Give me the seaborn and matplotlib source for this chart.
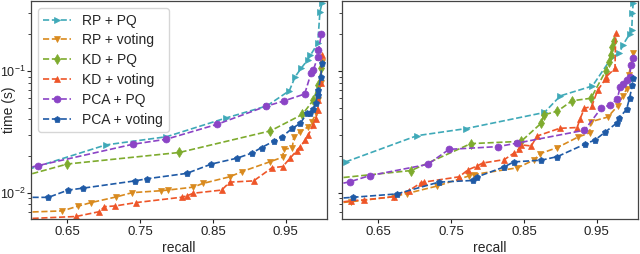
import matplotlib
matplotlib.use('Agg')
import matplotlib.pyplot as plt
import seaborn as sns

# ---- data: left panel (A) ----
A_RP_PQ_X = [0.585, 0.703, 0.786, 0.868, 0.924, 0.955, 0.963, 0.971, 0.980, 0.984, 0.994, 0.997, 1.0]
A_RP_PQ_Y = [0.0148, 0.0247, 0.0288, 0.0411, 0.0516, 0.0689, 0.0898, 0.105, 0.123, 0.135, 0.169, 0.307, 0.364]

A_RP_VOTE_X = [0.59, 0.643, 0.664, 0.683, 0.717, 0.739, 0.778, 0.788, 0.823, 0.836, 0.873, 0.890,
               0.929, 0.946, 0.947, 0.959, 0.961, 0.970, 0.981, 0.986, 0.992, 0.995, 0.998, 1.0]
A_RP_VOTE_Y = [0.0069, 0.00708, 0.00773, 0.0083, 0.00922, 0.0100, 0.01037, 0.0105, 0.0111, 0.0119, 0.0135, 0.0149,
               0.0180, 0.0196, 0.0227, 0.0233, 0.0287, 0.0317, 0.0348, 0.0383, 0.0452, 0.0578, 0.0796, 0.118]

A_KD_PQ_X = [0.59, 0.65, 0.804, 0.929, 0.973, 0.988, 0.995, 0.999]
A_KD_PQ_Y = [0.0137, 0.0172, 0.0214, 0.0322, 0.0440, 0.0578, 0.0767, 0.106]

A_KD_VOTE_X = [0.59, 0.662, 0.694, 0.701, 0.716, 0.744, 0.807, 0.814, 0.823, 0.862, 0.873, 0.906, 0.931,
               0.946, 0.956, 0.965, 0.970, 0.977, 0.981, 0.988, 0.991, 0.994, 0.995, 0.998, 1.0]
A_KD_VOTE_Y = [0.0061, 0.00637, 0.00698, 0.00767, 0.00778, 0.00828, 0.00917, 0.0094, 0.00989, 0.0105, 0.0122, 0.0125, 0.016,
               0.0164, 0.0192, 0.0221, 0.0239, 0.0271, 0.0298, 0.036, 0.0401, 0.0478, 0.0578, 0.0792, 0.135]

A_PCA_PQ_X = [0.59, 0.610, 0.740, 0.786, 0.856, 0.923, 0.947, 0.976, 0.985, 0.988, 0.994, 0.995, 0.999]
A_PCA_PQ_Y = [0.0157, 0.0167, 0.0250, 0.0275, 0.0365, 0.0513, 0.0566, 0.0647, 0.0968, 0.102, 0.131, 0.149, 0.200]

A_PCA_VOTE_X = [0.59, 0.624, 0.651, 0.672, 0.743, 0.759, 0.814, 0.848, 0.883, 0.903, 0.917, 0.934,
                0.945, 0.959, 0.970, 0.979, 0.983, 0.988, 0.991, 0.994, 0.995, 0.998, 1.0]
A_PCA_VOTE_Y = [0.00915, 0.00915, 0.0105, 0.0109, 0.0125, 0.0130, 0.0144, 0.0172, 0.0192, 0.0211, 0.0235, 0.0266,
                0.0288, 0.0338, 0.0371, 0.0449, 0.0454, 0.0484, 0.0543, 0.0635, 0.0698, 0.0893, 0.116]

# ---- data: right panel (B) ----
B_RP_PQ_X = [0.605, 0.703, 0.770, 0.878, 0.900, 0.944, 0.971, 0.981, 0.986, 0.995, 0.998, 0.999, 1.0]
B_RP_PQ_Y = [0.0179, 0.0294, 0.0336, 0.0456, 0.0625, 0.0753, 0.130, 0.140, 0.164, 0.201, 0.217, 0.300, 0.362]

B_RP_VOTE_X = [0.59, 0.613, 0.671, 0.689, 0.731, 0.774, 0.781, 0.841, 0.864, 0.872, 0.896, 0.924, 0.940,
               0.942, 0.965, 0.979, 0.986, 0.991, 0.994, 1.0]
B_RP_VOTE_Y = [0.0082, 0.00843, 0.00927, 0.00984, 0.01135, 0.0137, 0.0141, 0.0160, 0.0186, 0.0209, 0.0235, 0.0286, 0.0310,
               0.0383, 0.0418, 0.0518, 0.0624, 0.0711, 0.0927, 0.140]

B_KD_PQ_X = [0.59, 0.695, 0.777, 0.846, 0.874, 0.877, 0.896, 0.916, 0.942, 0.962, 0.967, 0.969, 0.971, 0.973]
B_KD_PQ_Y = [0.0131, 0.0152, 0.0253, 0.0264, 0.0374, 0.0435, 0.0468, 0.0569, 0.0597, 0.0995, 0.119, 0.135, 0.157, 0.177]

B_KD_VOTE_X = [0.59, 0.613, 0.630, 0.671, 0.692, 0.708, 0.712, 0.761, 0.773, 0.786, 0.793, 0.823, 0.836, 0.843,
               0.846, 0.860, 0.868, 0.899, 0.923, 0.927, 0.933, 0.943, 0.951, 0.962, 0.963, 0.975, 0.976]
B_KD_VOTE_Y = [0.00822, 0.00859, 0.00871, 0.00927, 0.0104, 0.0120, 0.0122, 0.0135, 0.0154, 0.0166, 0.0175, 0.0187, 0.0211, 0.0229,
               0.0247, 0.0242, 0.0292, 0.0338, 0.0343, 0.0403, 0.0494, 0.0511, 0.0692, 0.0860, 0.0898, 0.105, 0.204]

B_PCA_PQ_X = [0.59, 0.611, 0.638, 0.718, 0.747, 0.814, 0.840, 0.933, 0.956, 0.968, 0.978, 0.982, 0.986,
              0.991, 0.995, 0.997, 1.0]
B_PCA_PQ_Y = [0.01156, 0.0123, 0.0138, 0.0171, 0.0227, 0.0239, 0.0255, 0.0326, 0.0494, 0.0526, 0.0585, 0.0734, 0.0782,
              0.0843, 0.0893, 0.111, 0.127]

B_PCA_VOTE_X = [0.59, 0.615, 0.675, 0.733, 0.780, 0.786, 0.823, 0.836, 0.874, 0.896, 0.934, 0.948, 0.961,
                0.978, 0.981, 0.991, 0.995, 0.999, 1.0]
B_PCA_VOTE_Y = [0.00895, 0.00916, 0.00976, 0.0122, 0.0126, 0.0135, 0.0163, 0.0179, 0.0185, 0.0198, 0.0251, 0.0272, 0.0313,
                0.0376, 0.0412, 0.0485, 0.060, 0.0767, 0.0871]

LABELS = ['RP + PQ', 'RP + voting', 'KD + PQ', 'KD + voting', 'PCA + PQ', 'PCA + voting']
COLORS = ['#3fa9b8', '#d98a1e', '#7eab2e', '#ee5528', '#8b44c6', '#1f5aa6']
MARKERS = ['>', 'v', 'd', '^', 'o', 'p']
MSIZES = [5, 5, 5.5, 5, 5, 4.6]
XTICKS = [0.65, 0.75, 0.85, 0.95]

PANEL_A = [(A_RP_PQ_X, A_RP_PQ_Y), (A_RP_VOTE_X, A_RP_VOTE_Y), (A_KD_PQ_X, A_KD_PQ_Y),
           (A_KD_VOTE_X, A_KD_VOTE_Y), (A_PCA_PQ_X, A_PCA_PQ_Y), (A_PCA_VOTE_X, A_PCA_VOTE_Y)]
PANEL_B = [(B_RP_PQ_X, B_RP_PQ_Y), (B_RP_VOTE_X, B_RP_VOTE_Y), (B_KD_PQ_X, B_KD_PQ_Y),
           (B_KD_VOTE_X, B_KD_VOTE_Y), (B_PCA_PQ_X, B_PCA_PQ_Y), (B_PCA_VOTE_X, B_PCA_VOTE_Y)]

sns.set_style('ticks')
plt.rcParams['font.family'] = ['Liberation Sans', 'DejaVu Sans']
plt.rcParams['mathtext.fontset'] = 'custom'
plt.rcParams['mathtext.rm'] = 'Liberation Sans'
plt.rcParams['mathtext.it'] = 'Liberation Sans:italic'
plt.rcParams['axes.edgecolor'] = '#444444'

fig, axes = plt.subplots(1, 2, figsize=(6.4, 2.54), dpi=100, sharey=True)
fig.subplots_adjust(left=0.0484, right=0.9973, bottom=0.138, top=0.996, wspace=0.05)

for ax, panel in zip(axes, [PANEL_A, PANEL_B]):
    for (xs, ys), lab, col, mk, ms in zip(panel, LABELS, COLORS, MARKERS, MSIZES):
        sns.lineplot(x=xs, y=ys, ax=ax, sort=False, estimator=None, label=lab,
                     color=col, marker=mk, markersize=ms, markeredgecolor=col,
                     markeredgewidth=0.5, linestyle='--', linewidth=1.2)
    ax.set_yscale('log')
    ax.set_xlim(0.6, 1.007)
    ax.set_ylim(0.00608, 0.376)
    ax.set_xticks(XTICKS)
    ax.set_xticklabels([f'{t:.2f}' for t in XTICKS])
    ax.tick_params(axis='x', labelsize=9.5, colors='#222222', width=0.8, length=3, pad=2)
    ax.tick_params(axis='y', labelsize=9, colors='#222222', width=0.8, length=3, pad=1)
    ax.tick_params(which='minor', width=0.6, length=2)
    ax.set_xlabel('recall', fontsize=10, labelpad=2)
    for s in ax.spines.values():
        s.set_visible(True)
        s.set_linewidth(0.9)

axes[0].set_ylabel('time (s)', fontsize=10)
axes[0].yaxis.set_label_coords(-0.05, 0.5)
axes[0].legend(loc='upper left', fontsize=10, labelspacing=0.42)
axes[1].get_legend().remove()

fig.savefig('out.png', dpi=100)
